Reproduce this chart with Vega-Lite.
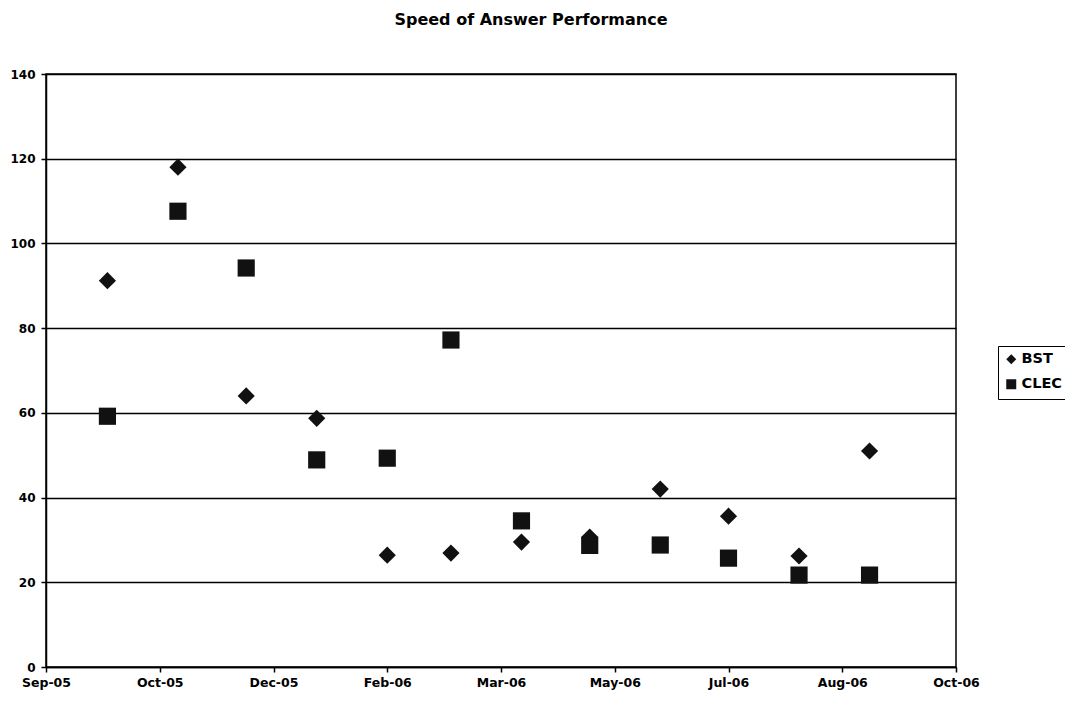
{
  "$schema": "https://vega.github.io/schema/vega-lite/v6.json",
  "autosize": "none",
  "width": 910,
  "height": 593,
  "padding": {"left": 46, "top": 74, "right": 109, "bottom": 36},
  "background": "white",
  "title": {
    "text": "Speed of Answer Performance",
    "font": "DejaVu Sans",
    "fontSize": 16,
    "fontWeight": "bold",
    "color": "#000",
    "anchor": "middle",
    "dx": 30,
    "offset": 40
  },
  "data": {
    "values": [
      {"date": "2005-10-01", "series": "BST", "value": 91.2},
      {"date": "2005-11-01", "series": "BST", "value": 118.0},
      {"date": "2005-12-01", "series": "BST", "value": 64.0},
      {"date": "2006-01-01", "series": "BST", "value": 58.7},
      {"date": "2006-02-01", "series": "BST", "value": 26.4},
      {"date": "2006-03-01", "series": "BST", "value": 26.9},
      {"date": "2006-04-01", "series": "BST", "value": 29.5},
      {"date": "2006-05-01", "series": "BST", "value": 30.7},
      {"date": "2006-06-01", "series": "BST", "value": 42.0},
      {"date": "2006-07-01", "series": "BST", "value": 35.6},
      {"date": "2006-08-01", "series": "BST", "value": 26.2},
      {"date": "2006-09-01", "series": "BST", "value": 51.0},
      {"date": "2005-10-01", "series": "CLEC", "value": 59.2},
      {"date": "2005-11-01", "series": "CLEC", "value": 107.6},
      {"date": "2005-12-01", "series": "CLEC", "value": 94.2},
      {"date": "2006-01-01", "series": "CLEC", "value": 48.9},
      {"date": "2006-02-01", "series": "CLEC", "value": 49.3},
      {"date": "2006-03-01", "series": "CLEC", "value": 77.2},
      {"date": "2006-04-01", "series": "CLEC", "value": 34.5},
      {"date": "2006-05-01", "series": "CLEC", "value": 28.7},
      {"date": "2006-06-01", "series": "CLEC", "value": 28.8},
      {"date": "2006-07-01", "series": "CLEC", "value": 25.7},
      {"date": "2006-08-01", "series": "CLEC", "value": 21.7},
      {"date": "2006-09-01", "series": "CLEC", "value": 21.7}
    ]
  },
  "mark": {"type": "point", "filled": true, "opacity": 1, "color": "#111", "size": 295},
  "encoding": {
    "x": {
      "field": "date",
      "type": "temporal",
      "title": null,
      "scale": {
        "type": "utc",
        "domain": [
          {"year": 2005, "month": 9, "date": 4, "utc": true},
          {"year": 2006, "month": 10, "date": 9, "utc": true}
        ]
      },
      "axis": {
        "values": [
          {"year": 2005, "month": 9, "date": 4, "utc": true},
          {"year": 2005, "month": 10, "date": 24, "utc": true},
          {"year": 2005, "month": 12, "date": 13, "utc": true},
          {"year": 2006, "month": 2, "date": 1, "utc": true},
          {"year": 2006, "month": 3, "date": 23, "utc": true},
          {"year": 2006, "month": 5, "date": 12, "utc": true},
          {"year": 2006, "month": 7, "date": 1, "utc": true},
          {"year": 2006, "month": 8, "date": 20, "utc": true},
          {"year": 2006, "month": 10, "date": 9, "utc": true}
        ],
        "labelExpr": "utcFormat(datum.value, '%b-%y')",
        "grid": false,
        "labelFlush": false,
        "labelOverlap": false,
        "labelPadding": 4,
        "labelFontSize": 12.5
      }
    },
    "y": {
      "field": "value",
      "type": "quantitative",
      "title": null,
      "scale": {"domain": [0, 140], "nice": false},
      "axis": {
        "values": [0, 20, 40, 60, 80, 100, 120, 140],
        "grid": true,
        "labelPadding": 6,
        "labelFontSize": 12
      }
    },
    "shape": {
      "field": "series",
      "type": "nominal",
      "scale": {"domain": ["BST", "CLEC"], "range": ["diamond", "square"]},
      "legend": {
        "title": null,
        "orient": "none",
        "legendX": 952,
        "legendY": 272,
        "strokeColor": "#000",
        "padding": 6,
        "rowPadding": 8,
        "symbolSize": 100,
        "symbolFillColor": "#111",
        "symbolStrokeColor": "#111",
        "labelFont": "DejaVu Sans",
        "labelFontSize": 14.5,
        "labelFontWeight": "bold",
        "labelColor": "#000",
        "labelOffset": 3
      }
    }
  },
  "config": {
    "view": {"stroke": "#000", "strokeWidth": 1.5},
    "axis": {
      "labelFont": "DejaVu Sans",
      "labelFontWeight": "bold",
      "labelColor": "#000",
      "domainColor": "#000",
      "domainWidth": 1.5,
      "tickColor": "#000",
      "tickSize": 5,
      "tickWidth": 1.5,
      "gridColor": "#000",
      "gridWidth": 1.5,
      "gridOpacity": 1
    }
  }
}
